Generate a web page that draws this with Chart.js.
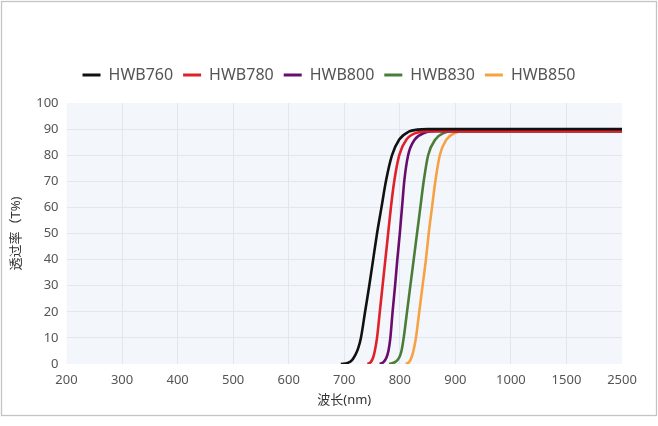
<!DOCTYPE html>
<html><head><meta charset="utf-8">
<script src="https://cdn.jsdelivr.net/npm/chart.js@4.4.1/dist/chart.umd.min.js"></script>
<style>html,body{margin:0;padding:0;background:#fff;}#wrap{width:658px;height:426px;position:relative;}canvas{display:block;}</style>
</head><body><div id="wrap"><canvas id="c" width="658" height="426" style="width:658px;height:426px"></canvas></div>
<script>
// Tick labels of the (non-linear) wavelength axis
const xTickLabels = [200, 300, 400, 500, 600, 700, 800, 900, 1000, 1500, 2500];
const yTickMax = 100;

const seriesNames = ['HWB760', 'HWB780', 'HWB800', 'HWB830', 'HWB850'];
const seriesColors = ['#111111', '#e0202b', '#6a0b6e', '#4b7d38', '#f7a145'];

// wavelengths (nm) and transmittance (%)
const wl760 = [694, 706, 714, 720, 725, 730, 737.5, 745, 752, 759, 767, 775, 786, 799, 816, 832, 850, 900, 1000, 2500];
const t760  = [0,   0.4, 1.5, 3.5, 6,   10,  20,    30,  40,  50,  60,  70,  80,  86,  89,  89.8, 90, 90,  90,   90];

const wl780 = [742, 748, 752, 755, 759, 764, 769, 774, 779, 784, 790, 799, 812, 834, 855, 900, 1000, 2500];
const t780  = [0,   0.8, 2.5, 5,   10,  20,  30,  40,  50,  60,  70,  80,  86,  88.8, 89.2, 89.2, 89.2, 89.2];

const wl800 = [764, 771, 776, 779.5, 783, 787, 791.5, 795.5, 800, 804, 808, 815, 827, 845, 865, 900, 1000, 2500];
const t800  = [0,   0.8, 2.5, 5,     10,  20,  30,    40,    50,  60,  70,  80,  86,  88.6, 89.2, 89.2, 89.2, 89.2];

const wl830 = [781, 792, 799, 803, 807, 813, 819, 825, 831, 837, 843, 851, 864, 880, 895, 950, 1000, 2500];
const t830  = [0,   0.8, 2.5, 5,   10,  20,  30,  40,  50,  60,  70,  80,  86,  88.6, 89.2, 89.2, 89.2, 89.2];

const wl850 = [811, 817, 821, 824.5, 829, 835, 841, 847, 852, 858, 864, 872, 884, 900, 912, 950, 1000, 2500];
const t850  = [0,   0.8, 2.5, 5,     10,  20,  30,  40,  50,  60,  70,  80,  86,  88.6, 89.2, 89.2, 89.2, 89.2];

const seriesWl = [wl760, wl780, wl800, wl830, wl850];
const seriesT = [t760, t780, t800, t830, t850];

// map a wavelength onto the equally spaced tick positions of the axis
function toAxis(w) {
  for (let i = 0; i < xTickLabels.length - 1; i++) {
    const a = xTickLabels[i], b = xTickLabels[i + 1];
    if (w <= b) return i + (w - a) / (b - a);
  }
  return xTickLabels.length - 1;
}

const FONT = '"Microsoft YaHei", "Noto Sans", "Noto Sans CJK SC", sans-serif';

const datasets = seriesNames.map((name, k) => ({
  label: name,
  data: seriesWl[k].map((w, i) => ({x: toAxis(w), y: seriesT[k][i]})),
  borderColor: seriesColors[k],
  backgroundColor: seriesColors[k],
  borderWidth: 2.6,
  pointRadius: 0,
  cubicInterpolationMode: 'monotone',
  fill: false
}));

const bgPlugin = {
  id: 'bgPlugin',
  beforeLayout(chart) {
    const lg = chart.legend;
    if (lg && !lg._patched) {
      const fit = lg.fit;
      lg.fit = function () { fit.call(this); this.height += 10; };
      lg._patched = true;
    }
  },
  beforeDraw(chart) {
    const {ctx, chartArea: a} = chart;
    ctx.save();
    ctx.fillStyle = '#ffffff';
    ctx.fillRect(0, 0, chart.width, chart.height);
    ctx.fillStyle = '#f3f7fb';
    ctx.fillRect(a.left, a.top, a.right - a.left, a.bottom - a.top);
    ctx.strokeStyle = '#c4c4c4';
    ctx.lineWidth = 1.3;
    ctx.strokeRect(1.5, 1.5, 655, 414);
    ctx.restore();
  }
};

new Chart(document.getElementById('c'), {
  type: 'line',
  data: {datasets},
  plugins: [bgPlugin],
  options: {
    responsive: false,
    animation: false,
    devicePixelRatio: 1,
    layout: {padding: {left: 0, right: 0, top: 57, bottom: 0}},
    plugins: {
      tooltip: {enabled: false},
      legend: {
        position: 'top',
        labels: {
          boxWidth: 18,
          boxHeight: 3,
          padding: 10,
          color: '#555555',
          font: {family: FONT, size: 16},
          generateLabels(chart) {
            return Chart.defaults.plugins.legend.labels.generateLabels(chart).map(l => ({...l, lineWidth: 0, fillStyle: l.strokeStyle}));
          }
        }
      }
    },
    scales: {
      x: {
        type: 'linear',
        min: 0,
        max: xTickLabels.length - 1,
        afterBuildTicks(scale) {
          scale.ticks = xTickLabels.map((_, i) => ({value: i}));
        },
        afterFit(scale) {
          scale.height = 62;
          scale.paddingLeft = 0; scale.paddingRight = 36;
        },
        ticks: {
          autoSkip: false,
          maxRotation: 0,
          padding: 8,
          color: '#555555',
          font: {family: FONT, size: 13},
          callback: (v) => xTickLabels[Math.round(v)]
        },
        grid: {
          drawTicks: false,
          color: (c) => (c.index === 0 || c.index === xTickLabels.length - 1) ? 'rgba(0,0,0,0)' : '#e1e7ee',
          lineWidth: 1
        },
        border: {display: false},
        title: {
          display: true,
          text: '波长(nm)',
          color: '#333333',
          font: {family: FONT, size: 13},
          padding: {top: 0, bottom: 18}
        }
      },
      y: {
        min: 0,
        max: yTickMax,
        afterFit(scale) {
          scale.width = 66.5;
          scale.paddingTop = 0; scale.paddingBottom = 0;
        },
        ticks: {
          stepSize: 10,
          padding: 8,
          color: '#555555',
          font: {family: FONT, size: 13}
        },
        grid: {
          drawTicks: false,
          color: (c) => (c.tick && (c.tick.value === 0 || c.tick.value === yTickMax)) ? 'rgba(0,0,0,0)' : '#e1e7ee',
          lineWidth: 1
        },
        border: {display: false},
        title: {
          display: true,
          text: '透过率（T%)',
          color: '#333333',
          font: {family: FONT, size: 13},
          padding: {top: 8, bottom: 0}
        }
      }
    }
  }
});
</script>
</body></html>
